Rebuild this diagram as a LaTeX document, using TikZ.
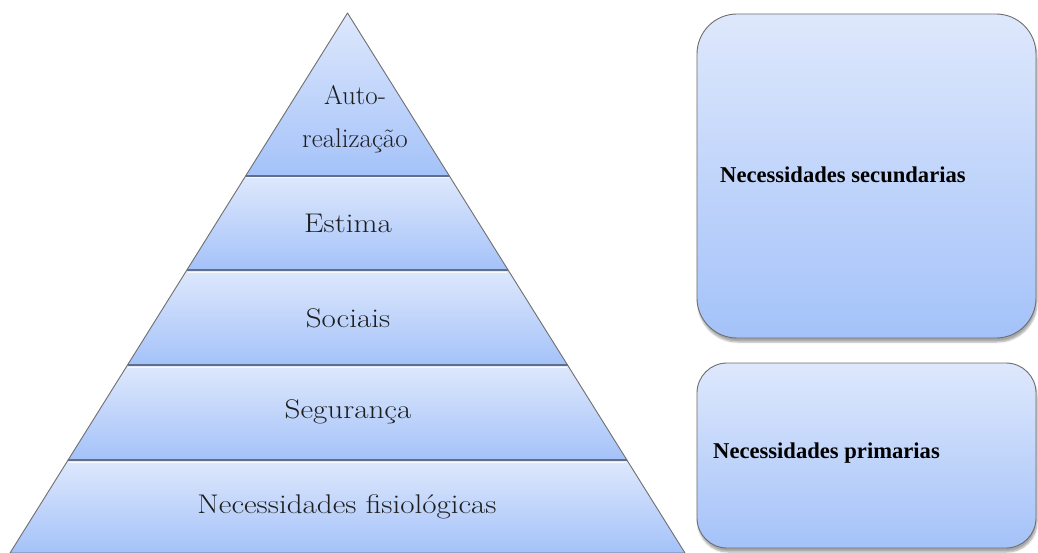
\documentclass[tikz,border=0pt]{standalone}
\usepackage{fontspec}
\newfontfamily\boxfont{Liberation Serif}
\newfontfamily\pyrfont[FakeStretch=1.15]{Latin Modern Roman}
\newfontfamily\pyrfonttop[FakeStretch=1.0]{Latin Modern Roman}
\usetikzlibrary{shadows.blur}
\definecolor{topc}{RGB}{222,232,252}
\definecolor{botc}{RGB}{164,194,249}
\definecolor{edgec}{RGB}{110,110,110}
\definecolor{sepc}{RGB}{95,110,140}
\definecolor{txtc}{RGB}{30,30,30}
\tikzset{
  level/.style={top color=topc, bottom color=botc, draw=edgec, line width=0.9pt, line join=round},
  sep/.style={draw=sepc, line width=1.6pt},
  hilite/.style={draw=white, line width=1pt, opacity=0.8},
  lvltext/.style={font=\pyrfont\fontsize{27}{43}\selectfont, text=txtc, align=center, inner sep=0pt},
  needbox/.style={top color=topc, bottom color=botc, draw=edgec, line width=0.9pt,
    blur shadow={shadow xshift=1pt, shadow yshift=-4pt, shadow blur steps=6, shadow opacity=35},
    minimum width=339pt, inner sep=0pt},
  boxtext/.style={font=\boxfont\bfseries\fontsize{22.6}{26}\selectfont, text=black, anchor=west, inner sep=0pt}
}
\begin{document}
\begin{tikzpicture}[x=1pt,y=-1pt]
\useasboundingbox (0,0) rectangle (1038,553);
% pyramid coordinates (apex 347.5,13; slope 0.625)
\coordinate (apex) at (347.5,13);
\coordinate (l1) at (245.6,176); \coordinate (r1) at (449.4,176);
\coordinate (l2) at (186.9,270); \coordinate (r2) at (508.1,270);
\coordinate (l3) at (127.5,365); \coordinate (r3) at (567.5,365);
\coordinate (l4) at (68.1,460);  \coordinate (r4) at (626.9,460);
\coordinate (l5) at (10,553);    \coordinate (r5) at (685,553);
% levels
\path[level] (apex) -- (r1) -- (l1) -- cycle;
\path[level] (l1) -- (r1) -- (r2) -- (l2) -- cycle;
\path[level] (l2) -- (r2) -- (r3) -- (l3) -- cycle;
\path[level] (l3) -- (r3) -- (r4) -- (l4) -- cycle;
\path[level] (l4) -- (r4) -- (r5) -- (l5) -- cycle;
\draw[sep] (l1) -- (r1);
\draw[sep] (l2) -- (r2);
\draw[sep] (l3) -- (r3);
\draw[sep] (l4) -- (r4);
\draw[hilite] ([shift={(0.8,2)}]l1) -- ([shift={(-0.8,2)}]r1);
\draw[hilite] ([shift={(0.8,2)}]l2) -- ([shift={(-0.8,2)}]r2);
\draw[hilite] ([shift={(0.8,2)}]l3) -- ([shift={(-0.8,2)}]r3);
\draw[hilite] ([shift={(0.8,2)}]l4) -- ([shift={(-0.8,2)}]r4);
% texts
\node[lvltext, font=\pyrfonttop\fontsize{27}{43}\selectfont] (auto) at (355,119) {Auto-\\realização};
\node[lvltext] (estima) at (348,223) {Estima};
\node[lvltext] (sociais) at (348,318) {Sociais};
\node[lvltext] (seg) at (348,412) {Segurança};
\node[lvltext] (fis) at (347,507) {Necessidades fisiológicas};
% boxes
\node[needbox, minimum height=324pt, rounded corners=40pt] (sec) at (866.5,176) {};
\node[needbox, minimum height=185pt, rounded corners=30pt] (pri) at (866.5,455.5) {};
\node[boxtext] (sectxt) at (720,175) {Necessidades secundarias};
\node[boxtext] (pritxt) at (713,453) {Necessidades primarias};
\end{tikzpicture}
\end{document}
